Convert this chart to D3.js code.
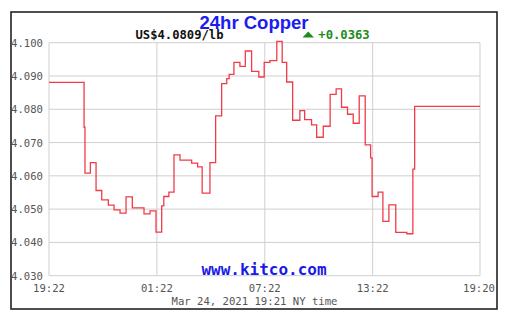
<!DOCTYPE html>
<html>
<head>
<meta charset="utf-8">
<script src="https://cdn.jsdelivr.net/npm/d3@7"></script>
<style>
html,body{margin:0;padding:0;background:#fff;}
svg{display:block;}
</style>
</head>
<body>
<svg id="chart" width="507" height="326"></svg>
<script>
// minutes since 19:22 (Mar 23) and price (US$/lb), step series
const minutes = [0,117,120,138,157,176,198,217,237,257,278,317,337,357,376,383,400,417,437,476,496,511,537,556,576,593,601,617,637,655,676,700,718,737,760,778,793,813,837,853,876,893,915,938,958,976,996,1015,1035,1055,1073,1078,1098,1114,1134,1157,1194,1214,1220,1438];
const prices = [4.0881,4.0746,4.0608,4.0640,4.0556,4.0528,4.0512,4.0498,4.0488,4.0537,4.0504,4.0486,4.0495,4.0431,4.0510,4.0538,4.0551,4.0663,4.0647,4.0638,4.0627,4.0548,4.0640,4.0780,4.0877,4.0892,4.0905,4.0941,4.0929,4.0975,4.0914,4.0897,4.0941,4.0946,4.1004,4.0941,4.0882,4.0767,4.0796,4.0769,4.0753,4.0716,4.0749,4.0845,4.0861,4.0806,4.0785,4.0758,4.0840,4.0693,4.0654,4.0538,4.0551,4.0463,4.0513,4.0430,4.0426,4.0620,4.0809,4.0809];
const xTickMinutes = [0,360,720,1080,1438];
const xTickLabels = ["19:22","01:22","07:22","13:22","19:20"];
const yTicks = [4.030,4.040,4.050,4.060,4.070,4.080,4.090,4.100];
const title = "24hr Copper";
const priceText = "US$4.0809/lb";
const changeText = "+0.0363";
const siteText = "www.kitco.com";
const footerText = "Mar 24, 2021 19:21 NY time";

const svg = d3.select("#chart");
const L = 49, R = 480, T = 42.7, B = 275.7;
const x = d3.scaleLinear().domain([0,1438]).range([L,R]);
const y = d3.scaleLinear().domain([4.030,4.100]).range([B,T]);
const mono = "'DejaVu Sans Mono', 'Liberation Mono', monospace";

// outer frame
svg.append("rect").attr("x",11).attr("y",12).attr("width",486).attr("height",297)
  .attr("fill","#fff").attr("stroke","#222").attr("stroke-width",1.6);

// grid
const g = svg.append("g");
g.selectAll("line.h").data(yTicks).join("line")
  .attr("x1",L).attr("x2",R).attr("y1",d=>y(d)).attr("y2",d=>y(d))
  .attr("stroke","#cfcfcf").attr("stroke-width",1);
g.selectAll("line.v").data(xTickMinutes).join("line")
  .attr("x1",d=>x(d)).attr("x2",d=>x(d)).attr("y1",T).attr("y2",B)
  .attr("stroke","#cfcfcf").attr("stroke-width",1);

// y labels
svg.append("g").selectAll("text").data(yTicks).join("text")
  .attr("x",43).attr("y",d=>y(d)+4)
  .attr("text-anchor","end").attr("font-family",mono).attr("font-size",10.6)
  .attr("fill","#555").text(d=>d.toFixed(3));

// x labels
svg.append("g").selectAll("text").data(xTickMinutes).join("text")
  .attr("x",(d,i)=> i===xTickMinutes.length-1 ? 495 : x(d))
  .attr("y",291.5)
  .attr("text-anchor",(d,i)=> i===xTickMinutes.length-1 ? "end" : "middle")
  .attr("font-family",mono).attr("font-size",10.6).attr("fill","#555")
  .text((d,i)=>xTickLabels[i]);

// footer
svg.append("text").attr("x",254.5).attr("y",305).attr("text-anchor","middle")
  .attr("font-family",mono).attr("font-size",10.6).attr("fill","#555").text(footerText);

// watermark
svg.append("text").attr("x",264).attr("y",275).attr("text-anchor","middle")
  .attr("font-family",mono).attr("font-weight","bold").attr("font-size",16)
  .attr("fill","#1a1ae6").text(siteText);

// line
const data = minutes.map((m,i)=>({m, p:prices[i]}));
svg.append("path").datum(data)
  .attr("fill","none").attr("stroke","#f03c48").attr("stroke-width",1.3)
  .attr("d", d3.line().x(d=>x(d.m)).y(d=>y(d.p)).curve(d3.curveStepAfter));

// title
svg.append("text").attr("x",254).attr("y",28.5).attr("text-anchor","middle")
  .attr("font-family","'Liberation Sans', Arial, sans-serif").attr("font-weight","bold")
  .attr("font-size",18.5).attr("fill","#1c1cf0").text(title);

// price
svg.append("text").attr("x",135.5).attr("y",39)
  .attr("font-family",mono).attr("font-weight","bold").attr("font-size",12.2)
  .attr("fill","#111").text(priceText);

// change triangle + text
svg.append("path").attr("d","M302.5,37.5 L314,37.5 L308.25,31.5 Z").attr("fill","#1d8c1d");
svg.append("text").attr("x",318.3).attr("y",39)
  .attr("font-family",mono).attr("font-weight","bold").attr("font-size",12.2)
  .attr("fill","#1d8c1d").text(changeText);
</script>
</body>
</html>
